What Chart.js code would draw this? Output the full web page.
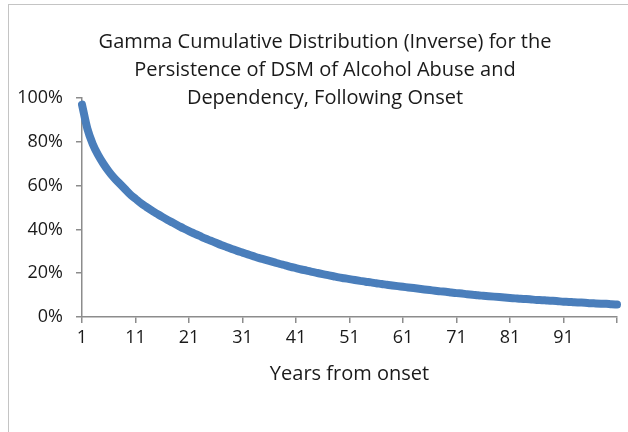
<!DOCTYPE html>
<html>
<head>
<meta charset="utf-8">
<script src="https://cdn.jsdelivr.net/npm/chart.js@4"></script>
<style>
  html, body { margin: 0; padding: 0; background: #fff; overflow: hidden; }
  .frame {
    position: absolute; left: 8px; top: 4px;
    width: 640px; height: 440px;
    border: 1px solid #c4c4c4;
  }
  #chart { position: absolute; left: 0; top: 0; }
</style>
</head>
<body>
<div class="frame">
  <canvas id="chart" width="632" height="427"></canvas>
</div>
<script>
// Data
const titleLines = [
  'Gamma Cumulative Distribution (Inverse) for the',
  'Persistence of DSM of Alcohol Abuse and',
  'Dependency, Following Onset'
];
const xTitle = 'Years from onset';
const years = Array.from({ length: 101 }, (_, i) => String(i + 1));
const persistence = [
  0.97, 0.86, 0.79, 0.74, 0.70, 0.665, 0.635, 0.61, 0.585, 0.56,
  0.54, 0.52, 0.503, 0.487, 0.472, 0.457, 0.443, 0.43, 0.417, 0.404,
  0.392, 0.381, 0.37, 0.359, 0.349, 0.339, 0.329, 0.32, 0.311, 0.302,
  0.294, 0.286, 0.278, 0.27, 0.263, 0.256, 0.249, 0.242, 0.236, 0.229,
  0.223, 0.217, 0.212, 0.206, 0.201, 0.196, 0.191, 0.186, 0.181, 0.177,
  0.173, 0.169, 0.165, 0.161, 0.158, 0.154, 0.151, 0.147, 0.144, 0.141,
  0.138, 0.135, 0.132, 0.129, 0.126, 0.123, 0.12, 0.117, 0.115, 0.112,
  0.109, 0.107, 0.104, 0.102, 0.099, 0.097, 0.095, 0.093, 0.091, 0.089,
  0.087, 0.085, 0.083, 0.082, 0.08, 0.078, 0.077, 0.075, 0.074, 0.072,
  0.07, 0.069, 0.067, 0.066, 0.065, 0.063, 0.062, 0.061, 0.06, 0.058,
  0.057
];
const yTicks = [0, 0.2, 0.4, 0.6, 0.8, 1];

const axisGray = '#8c8c8c';
const textColor = '#1a1a1a';
const fontFamily = '"Open Sans", "Noto Sans", sans-serif';

// Title drawn by hand so it can overlap the top of the plot like the original
const titlePlugin = {
  id: 'overlapTitle',
  afterDraw(chart) {
    const ctx = chart.ctx;
    ctx.save();
    ctx.font = '20px ' + fontFamily;
    ctx.fillStyle = textColor;
    ctx.textAlign = 'center';
    ctx.textBaseline = 'middle';
    titleLines.forEach((line, i) => {
      ctx.fillText(line, 316, 37 + i * 28.3);
    });
    ctx.restore();
  }
};

new Chart(document.getElementById('chart'), {
  type: 'line',
  data: {
    labels: years,
    datasets: [{
      data: persistence,
      borderColor: '#4a7ebb',
      borderWidth: 8,
      borderCapStyle: 'round',
      borderJoinStyle: 'round',
      pointRadius: 0,
      cubicInterpolationMode: 'monotone',
      fill: false
    }]
  },
  options: {
    responsive: false,
    animation: false,
    layout: { padding: { left: 0, right: 24, top: 93, bottom: 46 } },
    plugins: {
      legend: { display: false },
      tooltip: { enabled: false }
    },
    scales: {
      x: {
        type: 'category',
        offset: false,
        afterFit(scale) { scale.height = 69; },
        border: { color: axisGray, width: 1.5 },
        grid: {
          drawOnChartArea: false,
          drawTicks: true,
          tickLength: 6,
          color: (c) => (c.index % 10 === 0 ? axisGray : 'rgba(0,0,0,0)'),
          lineWidth: 1.5
        },
        ticks: {
          autoSkip: false,
          maxRotation: 0,
          padding: 4,
          color: textColor,
          font: { family: fontFamily, size: 18 },
          callback: function(value, index) {
            return index % 10 === 0 && index < 100 ? years[index] : '';
          }
        },
        title: {
          display: true,
          text: xTitle,
          color: textColor,
          font: { family: fontFamily, size: 20 },
          padding: 0
        }
      },
      y: {
        min: 0,
        max: 1,
        afterFit(scale) { scale.width = 73; },
        afterBuildTicks(scale) {
          scale.ticks = yTicks.map(v => ({ value: v }));
        },
        border: { color: axisGray, width: 1.5 },
        grid: {
          drawOnChartArea: false,
          drawTicks: true,
          tickLength: 6,
          color: axisGray,
          lineWidth: 1.5
        },
        ticks: {
          padding: 13,
          color: textColor,
          font: { family: fontFamily, size: 18 },
          callback: (v) => Math.round(v * 100) + '%'
        }
      }
    }
  },
  plugins: [titlePlugin]
});
</script>
</body>
</html>
